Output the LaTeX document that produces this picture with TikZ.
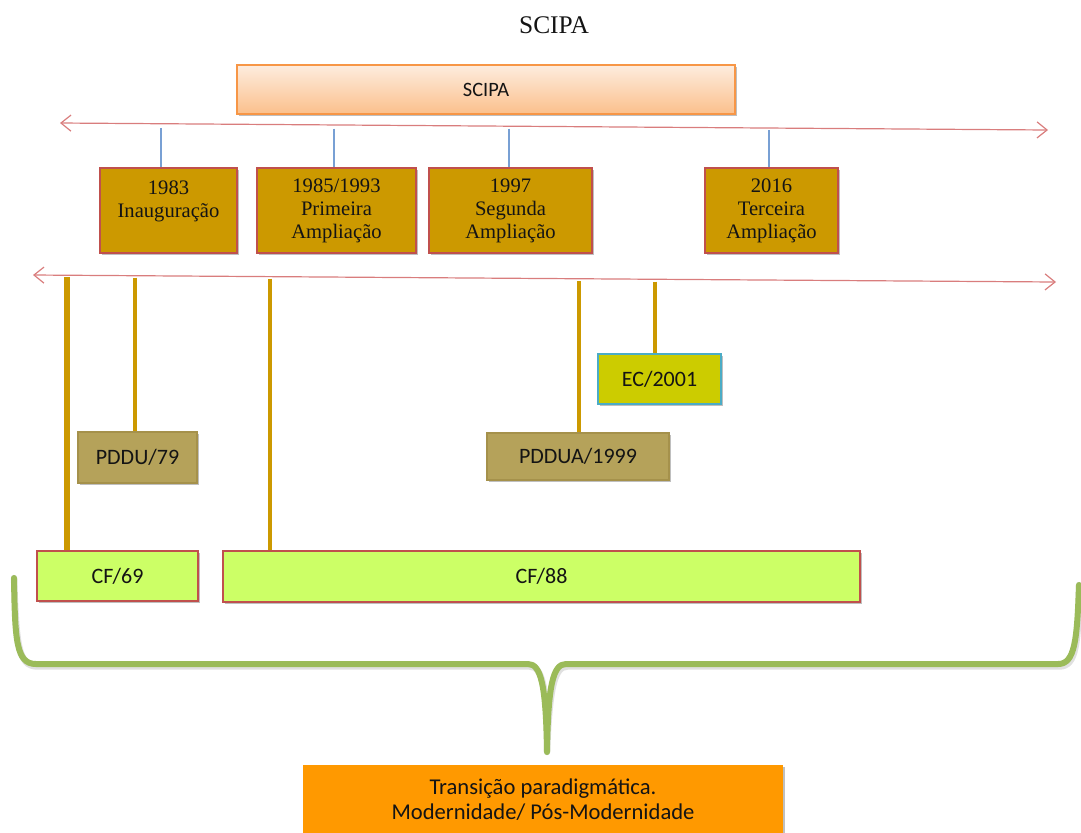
\documentclass[tikz,border=0pt]{standalone}
\usepackage{fontspec}
\setmainfont{Liberation Serif}
\newfontfamily\carl{Carlito}
\usetikzlibrary{arrows.meta,shadows}
\definecolor{arrred}{RGB}{217,125,125}
\definecolor{tickblue}{RGB}{120,160,212}
\definecolor{gold}{RGB}{204,153,0}
\definecolor{bordred}{RGB}{192,80,77}
\definecolor{tanfill}{RGB}{181,162,90}
\definecolor{tanbord}{RGB}{165,145,75}
\definecolor{ecfill}{RGB}{204,204,0}
\definecolor{ecbord}{RGB}{75,172,198}
\definecolor{cffill}{RGB}{204,255,102}
\definecolor{bracegreen}{RGB}{155,187,89}
\definecolor{orangefill}{RGB}{255,153,0}
\definecolor{peachtop}{RGB}{253,236,222}
\definecolor{peachbot}{RGB}{251,192,140}
\definecolor{peachbord}{RGB}{247,150,70}
\definecolor{txt}{RGB}{20,20,20}
\tikzset{
  wh/.style 2 args={minimum width=#1*0.5pt, minimum height=#2*0.5pt, inner sep=0pt},
  shad/.style={drop shadow={shadow xshift=0.8pt, shadow yshift=-1.2pt, opacity=0.25, fill=black}},
  yearbox/.style={draw=bordred, line width=0.6pt, fill=gold, shad, align=center, text=txt,
    font=\fontsize{10.3}{11.5}\selectfont},
  tanbox/.style={draw=tanbord, line width=0.6pt, fill=tanfill, shad, text=txt,
    font=\carl\fontsize{11}{13}\selectfont},
  cfbox/.style={draw=bordred, line width=0.6pt, fill=cffill, shad, text=txt,
    font=\carl\fontsize{11}{13}\selectfont},
  timeline/.style={draw=arrred, line width=0.6pt, {Straight Barb[length=5pt,width=8pt]}-{Straight Barb[length=5pt,width=8pt]}},
  tick/.style={draw=tickblue, line width=0.6pt},
  goldline/.style={draw=gold, line width=2.1pt},
}
\begin{document}
\begin{tikzpicture}[x=0.5pt,y=-0.5pt]
\useasboundingbox (0,0) rectangle (1081,832);

\node[font=\fontsize{12.7}{14}\selectfont, text=txt] (title) at (554,25) {SCIPA};

\node[wh={498}{49}, draw=peachbord, line width=0.6pt, top color=peachtop, bottom color=peachbot, shad,
  font=\carl\fontsize{10.2}{12}\selectfont, text=txt] (scipa) at (486,89.5) {SCIPA};

% top timeline
\coordinate (a1l) at (60,123);
\coordinate (a1r) at (1048,130);
\draw[timeline] (a1l) -- (a1r);

\node[yearbox, wh={137}{85}] (y1983) at (168.5,210.5) {1983\\Inauguração\\~};
\node[yearbox, wh={159}{85}] (y1985) at (336.5,210.5) {1985/1993\\Primeira\\Ampliação};
\node[yearbox, wh={163}{85}] (y1997) at (510.5,210.5) {1997\\Segunda\\Ampliação};
\node[yearbox, wh={133}{85}] (y2016) at (771.5,210.5) {2016\\Terceira\\Ampliação};

\coordinate (t1) at (161,128);
\coordinate (t2) at (334,128.5);
\coordinate (t3) at (509,128.5);
\coordinate (t4) at (769,130);
\draw[tick] (t1) -- (t1 |- y1983.north);
\draw[tick] (t2) -- (t2 |- y1985.north);
\draw[tick] (t3) -- (t3 |- y1997.north);
\draw[tick] (t4) -- (t4 |- y2016.north);

% second timeline
\coordinate (a2l) at (33,275);
\coordinate (a2r) at (1056,282);
\draw[timeline] (a2l) -- (a2r);

\node[tanbox, wh={119}{51}] (pddu) at (137.5,457.5) {PDDU/79};
\node[tanbox, wh={182}{47}] (pddua) at (578,456.5) {PDDUA/1999};
\node[draw=ecbord, line width=0.6pt, fill=ecfill, shad, text=txt, wh={123}{50},
  font=\carl\fontsize{11}{13}\selectfont] (ec) at (659.5,379) {EC/2001};
\node[cfbox, wh={161}{50}] (cf69) at (117.5,576) {CF/69};
\node[cfbox, wh={637}{51}] (cf88) at (541.5,576.5) {CF/88};

\coordinate (g1) at (67,277);
\coordinate (g2) at (135,277.5);
\coordinate (g3) at (270,278.5);
\coordinate (g4) at (579,281);
\coordinate (g5) at (655,281.5);
\draw[goldline, line width=3pt] (g1) -- (g1 |- cf69.north);
\draw[goldline] (g2) -- (g2 |- pddu.north);
\draw[goldline] (g3) -- (g3 |- cf88.north);
\draw[goldline] (g4) -- (g4 |- pddua.north);
\draw[goldline] (g5) -- (g5 |- ec.north);

% brace
\coordinate (bl) at (14,578);
\coordinate (btip) at (547,752);
\coordinate (br) at (1079,585);
\draw[draw=black, opacity=0.12, line width=3.2pt, line cap=round, line join=round, shift={(1.5,2.5)}]
  (bl) .. controls (15,640) and (16,664) .. (36,664) -- (528,664)
  .. controls (541,664) and (546,685) .. (btip)
  .. controls (548,685) and (553,664) .. (566,664) -- (1058,664)
  .. controls (1075,664) and (1077,640) .. (br);
\draw[draw=bracegreen, line width=3pt, line cap=round, line join=round]
  (bl) .. controls (15,640) and (16,664) .. (36,664) -- (528,664)
  .. controls (541,664) and (546,685) .. (btip)
  .. controls (548,685) and (553,664) .. (566,664) -- (1058,664)
  .. controls (1075,664) and (1077,640) .. (br);

\node[fill=orangefill, wh={480}{70}, align=center, text=txt, shad,
  font=\carl\fontsize{11.3}{12.5}\selectfont] (trans) at (543,800)
  {Transição paradigmática.\\Modernidade/ Pós-Modernidade};
\end{tikzpicture}
\end{document}
